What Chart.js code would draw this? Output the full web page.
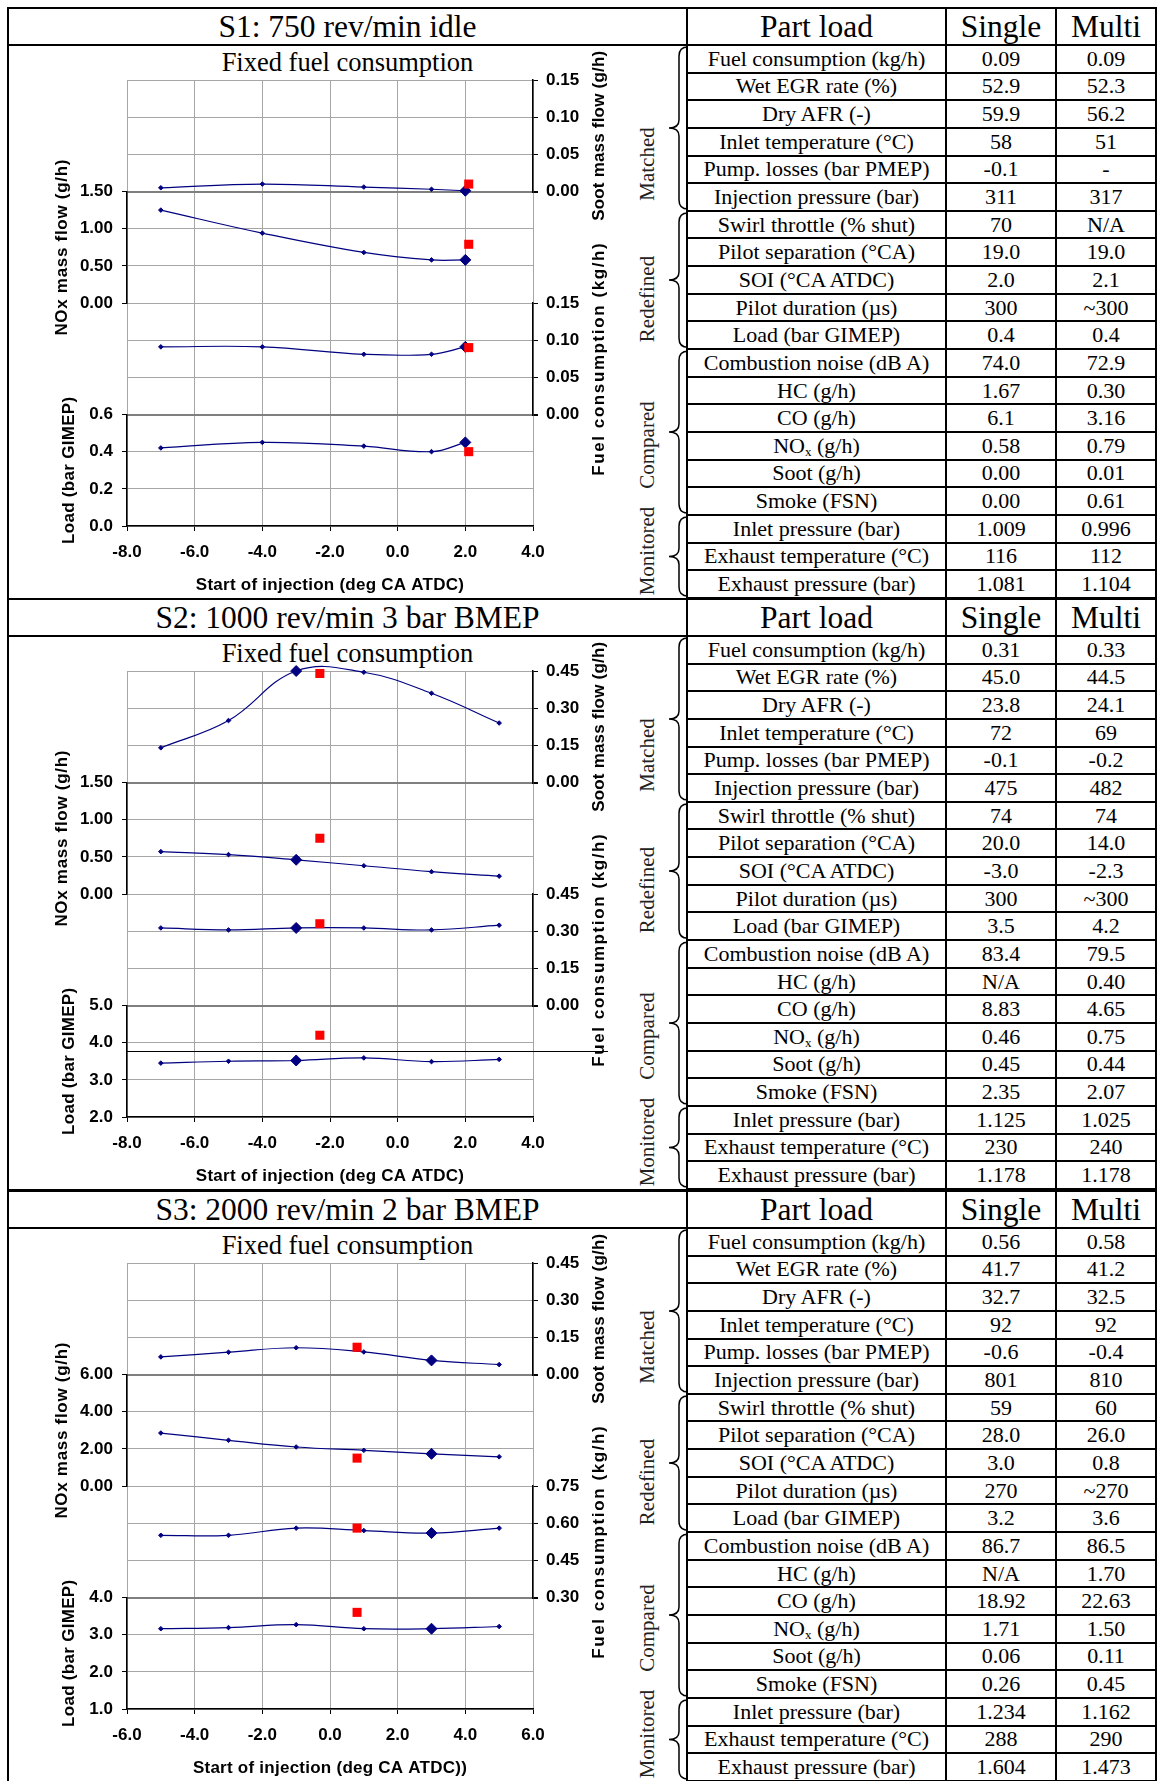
<!DOCTYPE html>
<html>
<head>
<meta charset="utf-8">
<script src="https://cdn.jsdelivr.net/npm/chart.js@4.4.1/dist/chart.umd.min.js"></script>
<style>
  html, body { margin: 0; padding: 0; background: #fff; }
  body { width: 1160px; height: 1781px; position: relative; overflow: hidden;
         font-family: 'Liberation Serif', 'Times New Roman', serif; color: #000; }
  .sec { position: absolute; left: 0; width: 1160px; height: 593px; }
  .frame { position: absolute; left: 7px; top: -1px; width: 681px; height: 593px;
           border: 2px solid #000; box-sizing: border-box; }
  .hline { position: absolute; left: 7px; top: 36px; width: 681px; height: 2px; background: #000; }
  .head { position: absolute; left: 9px; top: 1px; width: 677px; height: 35px; line-height: 35px;
          text-align: center; font-size: 31.5px; }
  .sub { position: absolute; left: 9px; top: 39px; width: 677px; height: 30px; line-height: 30px;
         text-align: center; font-size: 26.5px; }
  canvas { position: absolute; left: 8px; top: 40px; }
  svg.br { position: absolute; left: 0; top: 0; overflow: visible; }
  svg.br path { fill: none; stroke: #000; stroke-width: 1.5; }
  .cat { position: absolute; left: 647px; font-size: 21px; white-space: nowrap; color: #222;
         transform: translate(-50%, -50%) rotate(-90deg); }
  .tbl { position: absolute; left: 686px; top: -1px; width: 471px; box-sizing: border-box;
         display: grid; grid-template-columns: 257px 108px 98px;
         grid-template-rows: 35px repeat(20, 25.65px); gap: 2px; padding: 2px; background: #000; }
  .tbl div { background: #fff; display: flex; align-items: center; justify-content: center;
             font-size: 22px; white-space: nowrap; }
  .tbl div.h { font-size: 31.5px; }
  .tbl sub { font-size: 13px; vertical-align: -3px; line-height: 0; }
</style>
</head>
<body>
<script>
// ---- chart data ----
const s1Soi = [-7, -4, -1, 1, 2];
const s1Soot = [0.005, 0.010, 0.006, 0.003, 0.001];
const s1Nox = [1.25, 0.94, 0.68, 0.58, 0.58];
const s1Fuel = [0.091, 0.091, 0.081, 0.081, 0.091];
const s1Load = [0.42, 0.45, 0.43, 0.40, 0.45];
const s1SingleSoi = 2;
const s1Multi = [2.1, 0.01, 0.79, 0.09, 0.40]; // SOI, soot, NOx, fuel, load

const s2Soi = [-7, -5, -3, -1, 1, 3];
const s2Soot = [0.14, 0.25, 0.45, 0.445, 0.36, 0.24];
const s2Nox = [0.57, 0.53, 0.46, 0.38, 0.30, 0.24];
const s2Fuel = [0.313, 0.305, 0.313, 0.313, 0.305, 0.324];
const s2Load = [3.45, 3.50, 3.52, 3.59, 3.49, 3.55];
const s2SingleSoi = -3;
const s2Multi = [-2.3, 0.44, 0.75, 0.33, 4.2];
const s2RuleLoad = 3.77;

const s3Soi = [-5, -3, -1, 1, 3, 5];
const s3Soot = [0.071, 0.090, 0.108, 0.091, 0.057, 0.040];
const s3Nox = [2.85, 2.46, 2.10, 1.92, 1.73, 1.57];
const s3Fuel = [0.551, 0.551, 0.580, 0.570, 0.560, 0.580];
const s3Load = [3.16, 3.19, 3.27, 3.16, 3.16, 3.22];
const s3SingleSoi = 3;
const s3Multi = [0.8, 0.11, 1.50, 0.58, 3.6];

// axis ranges: [min, max, step]
const s1XRange = [-8, 4, 2], s1SootRange = [0, 0.15, 0.05], s1NoxRange = [0, 1.5, 0.5], s1FuelRange = [0, 0.15, 0.05], s1LoadRange = [0, 0.6, 0.2];
const s2XRange = [-8, 4, 2], s2SootRange = [0, 0.45, 0.15], s2NoxRange = [0, 1.5, 0.5], s2FuelRange = [0, 0.45, 0.15], s2LoadRange = [2, 5, 1];
const s3XRange = [-6, 6, 2], s3SootRange = [0, 0.45, 0.15], s3NoxRange = [0, 6, 2], s3FuelRange = [0.30, 0.75, 0.15], s3LoadRange = [1, 4, 1];

// ---- table data ----
const rowLabels = ['Fuel consumption (kg/h)', 'Wet EGR rate (%)', 'Dry AFR (-)', 'Inlet temperature (°C)',
  'Pump. losses (bar PMEP)', 'Injection pressure (bar)', 'Swirl throttle (% shut)', 'Pilot separation (°CA)',
  'SOI (°CA ATDC)', 'Pilot duration (µs)', 'Load (bar GIMEP)', 'Combustion noise (dB A)', 'HC (g/h)',
  'CO (g/h)', 'NO<sub>x</sub> (g/h)', 'Soot (g/h)', 'Smoke (FSN)', 'Inlet pressure (bar)',
  'Exhaust temperature (°C)', 'Exhaust pressure (bar)'];
const s1Single = ['0.09', '52.9', '59.9', '58', '-0.1', '311', '70', '19.0', '2.0', '300', '0.4', '74.0', '1.67', '6.1', '0.58', '0.00', '0.00', '1.009', '116', '1.081'];
const s1MultiCol = ['0.09', '52.3', '56.2', '51', '-', '317', 'N/A', '19.0', '2.1', '~300', '0.4', '72.9', '0.30', '3.16', '0.79', '0.01', '0.61', '0.996', '112', '1.104'];
const s2Single = ['0.31', '45.0', '23.8', '72', '-0.1', '475', '74', '20.0', '-3.0', '300', '3.5', '83.4', 'N/A', '8.83', '0.46', '0.45', '2.35', '1.125', '230', '1.178'];
const s2MultiCol = ['0.33', '44.5', '24.1', '69', '-0.2', '482', '74', '14.0', '-2.3', '~300', '4.2', '79.5', '0.40', '4.65', '0.75', '0.44', '2.07', '1.025', '240', '1.178'];
const s3Single = ['0.56', '41.7', '32.7', '92', '-0.6', '801', '59', '28.0', '3.0', '270', '3.2', '86.7', 'N/A', '18.92', '1.71', '0.06', '0.26', '1.234', '288', '1.604'];
const s3MultiCol = ['0.58', '41.2', '32.5', '92', '-0.4', '810', '60', '26.0', '0.8', '~270', '3.6', '86.5', '1.70', '22.63', '1.50', '0.11', '0.45', '1.162', '290', '1.473'];

const sectionTops = [8, 599, 1191];
const sectionHeads = ['S1: 750 rev/min idle', 'S2: 1000 rev/min 3 bar BMEP', 'S3: 2000 rev/min 2 bar BMEP'];
const groupNames = ['Matched', 'Redefined', 'Compared', 'Monitored'];
const groupRows = [[0, 6], [6, 11], [11, 17], [17, 20]];
const groupLabelY = [156, 291, 437, 543];

const ROW_H = 27.65, HEAD_H = 37;
const NAVY = '#000080', GRID = '#a6a6a6', DARK = '#7f7f7f';
const LEFT_W = 119, RIGHT_W = 135, X_H = 72;
const tickFont = { family: 'Liberation Sans', size: 17, weight: 'bold' };

function near(a, b) { return Math.abs(a - b) < 1e-9; }

function buildFrame(i, single, multi) {
  const sec = document.createElement('div');
  sec.className = 'sec';
  sec.style.top = sectionTops[i] + 'px';
  let html = `<div class="frame"></div><div class="hline"></div>
    <div class="head">${sectionHeads[i]}</div>
    <div class="sub">Fixed fuel consumption</div>`;
  let paths = '';
  groupRows.forEach(([a, b]) => {
    const y0 = HEAD_H + a * ROW_H + 2, y1 = HEAD_H + b * ROW_H - 2, ym = (y0 + y1) / 2;
    paths += `<path d="M688 ${y0} Q679 ${y0} 679 ${y0 + 9} L679 ${ym - 8} Q679 ${ym} 669 ${ym} Q679 ${ym} 679 ${ym + 8} L679 ${y1 - 9} Q679 ${y1} 688 ${y1}"/>`;
  });
  html += `<svg class="br" width="700" height="593">${paths}</svg>`;
  groupNames.forEach((g, k) => { html += `<div class="cat" style="top:${groupLabelY[k]}px">${g}</div>`; });
  let cells = '<div class="h">Part load</div><div class="h">Single</div><div class="h">Multi</div>';
  rowLabels.forEach((lab, r) => {
    cells += `<div><span>${lab}</span></div><div>${single[r]}</div><div>${multi[r]}</div>`;
  });
  html += `<div class="tbl">${cells}</div>`;
  html += `<canvas width="660" height="550"></canvas>`;
  sec.innerHTML = html;
  document.body.appendChild(sec);
  return sec.querySelector('canvas');
}

function yAxis(pos, weight, range, dec, isTop, darkBottom) {
  const dark = c => darkBottom && c.tick && near(c.tick.value, range[0]);
  return {
    type: 'linear', position: pos, stack: 'panels', weight,
    min: range[0], max: range[1],
    ticks: {
      stepSize: range[2], font: tickFont, color: '#000', autoSkip: false,
      padding: pos === 'left' ? 9 : 8,
      callback: v => Number(v).toFixed(dec)
    },
    grid: {
      color: c => (!isTop && c.tick && near(c.tick.value, range[1])) ? 'rgba(0,0,0,0)' : (dark(c) ? DARK : GRID),
      lineWidth: c => dark(c) ? 2 : 1,
      tickColor: '#000', tickLength: 5
    },
    border: { color: '#000', width: 1.5 },
    afterFit: s => { s.width = pos === 'left' ? LEFT_W : RIGHT_W; }
  };
}

function spacer(pos, weight) {
  return {
    type: 'linear', display: false, position: pos, stack: 'panels', weight, min: 0, max: 1,
    afterFit: s => { s.width = pos === 'left' ? LEFT_W : RIGHT_W; }
  };
}

function series(xs, ys, axis, singleSoi) {
  return {
    data: xs.map((x, i) => ({ x, y: ys[i] })), yAxisID: axis, xAxisID: 'x',
    borderColor: NAVY, borderWidth: 1.2, tension: 0.4, fill: false, clip: false,
    pointStyle: 'rectRot', pointBackgroundColor: NAVY, pointBorderColor: NAVY, pointBorderWidth: 1,
    pointRadius: c => near(xs[c.dataIndex], singleSoi) ? 5.5 : 2.3
  };
}

function marker(x, y, axis) {
  return {
    data: [{ x, y }], yAxisID: axis, xAxisID: 'x', showLine: false, clip: false,
    pointStyle: 'rect', pointRadius: 6.4, pointBackgroundColor: '#ff0000',
    pointBorderColor: '#ff0000', pointBorderWidth: 0
  };
}

// axis titles drawn with letter spacing, centred on their panel
function titlePlugin(xTitle, ruleValue) {
  const items = [
    { axis: 'yNox', text: 'NOx mass flow (g/h)', side: 'left', dx: -65, spacing: 0.7 },
    { axis: 'yLoad', text: 'Load (bar GIMEP)', side: 'left', dx: -58, spacing: 0.3 },
    { axis: 'ySoot', text: 'Soot mass flow (g/h)', side: 'right', dx: 66, spacing: 0.2 },
    { axis: 'yFuel', text: 'Fuel consumption (kg/h)', side: 'right', dx: 66, spacing: 1.6 }
  ];
  return {
    id: 'sideTitles',
    afterDraw(chart) {
      const { ctx, chartArea } = chart;
      ctx.save();
      ctx.fillStyle = '#000';
      ctx.textAlign = 'center';
      ctx.textBaseline = 'middle';
      ctx.font = 'bold 17px "Liberation Sans"';
      items.forEach(t => {
        const s = chart.scales[t.axis];
        const x = t.side === 'left' ? chartArea.left + t.dx : chartArea.right + t.dx;
        ctx.save();
        ctx.letterSpacing = t.spacing + 'px';
        ctx.translate(x, (s.top + s.bottom) / 2);
        ctx.rotate(-Math.PI / 2);
        ctx.fillText(t.text, 0, 0);
        ctx.restore();
      });
      ctx.letterSpacing = '0.25px';
      ctx.fillText(xTitle, (chartArea.left + chartArea.right) / 2, chartArea.bottom + 59);
      if (ruleValue !== undefined) {
        const y = Math.round(chart.scales.yLoad.getPixelForValue(ruleValue)) + 0.5;
        ctx.strokeStyle = '#000';
        ctx.lineWidth = 1.2;
        ctx.beginPath();
        ctx.moveTo(chartArea.left, y);
        ctx.lineTo(chartArea.right + 75, y);
        ctx.stroke();
      }
      ctx.restore();
    }
  };
}

function buildChart(canvas, d) {
  const datasets = [
    marker(d.multi[0], d.multi[1], 'ySoot'),
    marker(d.multi[0], d.multi[2], 'yNox'),
    marker(d.multi[0], d.multi[3], 'yFuel'),
    marker(d.multi[0], d.multi[4], 'yLoad'),
    series(d.soi, d.soot, 'ySoot', d.singleSoi),
    series(d.soi, d.nox, 'yNox', d.singleSoi),
    series(d.soi, d.fuel, 'yFuel', d.singleSoi),
    series(d.soi, d.load, 'yLoad', d.singleSoi)
  ];
  new Chart(canvas, {
    type: 'line',
    data: { datasets },
    options: {
      responsive: false,
      animation: false,
      events: [],
      layout: { padding: { top: 32, left: 0, right: 0, bottom: 0 } },
      elements: { line: { capBezierPoints: false } },
      plugins: { legend: { display: false }, tooltip: { enabled: false } },
      scales: {
        x: {
          type: 'linear', position: 'bottom', min: d.xRange[0], max: d.xRange[1],
          ticks: {
            stepSize: d.xRange[2], font: tickFont, color: '#000', padding: 11,
            autoSkip: false, maxRotation: 0, callback: v => Number(v).toFixed(1)
          },
          grid: { color: GRID, tickColor: '#000', tickLength: 5 },
          border: { color: '#000', width: 1.5 },
          afterFit: s => { s.height = X_H; }
        },
        ySoot: yAxis('right', 1, d.sootRange, 2, true, true),
        yR2: spacer('right', 2),
        yFuel: yAxis('right', 3, d.fuelRange, 2, false, true),
        yR4: spacer('right', 4),
        yL1: spacer('left', 4),
        yNox: yAxis('left', 3, d.noxRange, 2, false, false),
        yL3: spacer('left', 2),
        yLoad: yAxis('left', 1, d.loadRange, 1, false, false)
      }
    },
    plugins: [titlePlugin(d.xTitle, d.rule)]
  });
}

const c1 = buildFrame(0, s1Single, s1MultiCol);
const c2 = buildFrame(1, s2Single, s2MultiCol);
const c3 = buildFrame(2, s3Single, s3MultiCol);

buildChart(c1, { soi: s1Soi, soot: s1Soot, nox: s1Nox, fuel: s1Fuel, load: s1Load, singleSoi: s1SingleSoi, multi: s1Multi,
  xRange: s1XRange, sootRange: s1SootRange, noxRange: s1NoxRange, fuelRange: s1FuelRange, loadRange: s1LoadRange,
  xTitle: 'Start of injection (deg CA ATDC)' });
buildChart(c2, { soi: s2Soi, soot: s2Soot, nox: s2Nox, fuel: s2Fuel, load: s2Load, singleSoi: s2SingleSoi, multi: s2Multi,
  xRange: s2XRange, sootRange: s2SootRange, noxRange: s2NoxRange, fuelRange: s2FuelRange, loadRange: s2LoadRange,
  xTitle: 'Start of injection (deg CA ATDC)', rule: s2RuleLoad });
buildChart(c3, { soi: s3Soi, soot: s3Soot, nox: s3Nox, fuel: s3Fuel, load: s3Load, singleSoi: s3SingleSoi, multi: s3Multi,
  xRange: s3XRange, sootRange: s3SootRange, noxRange: s3NoxRange, fuelRange: s3FuelRange, loadRange: s3LoadRange,
  xTitle: 'Start of injection (deg CA ATDC))' });
</script>
</body>
</html>
